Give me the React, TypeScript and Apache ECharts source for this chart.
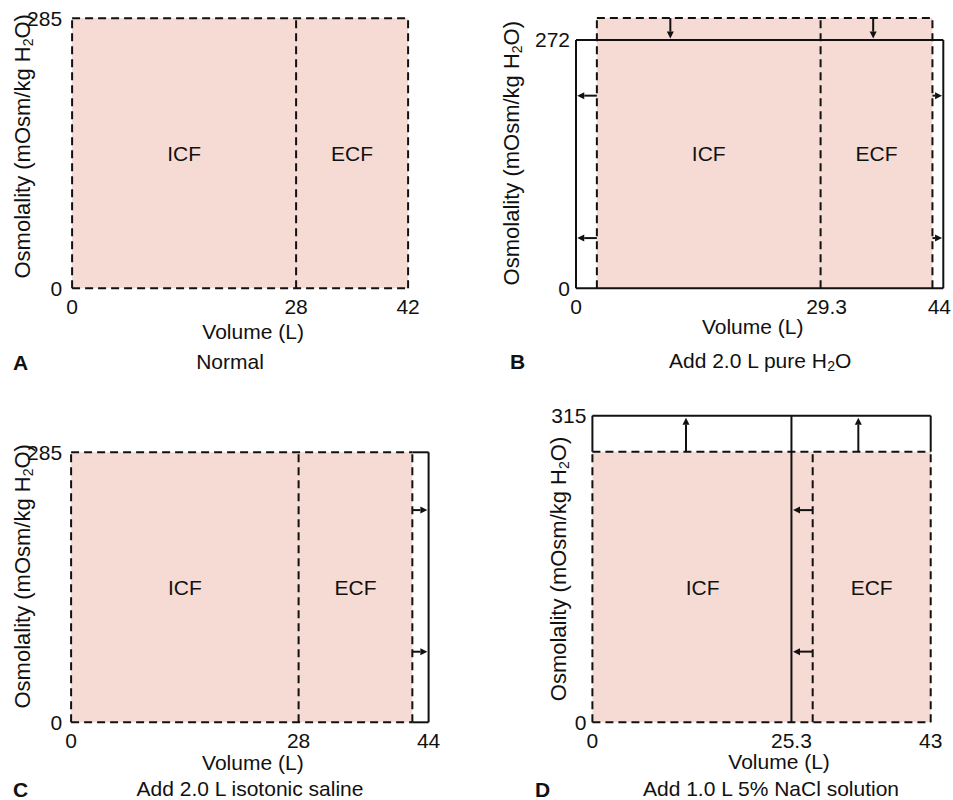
import React, { useEffect, useRef } from "react";
import * as echarts from "echarts";

const FONT = "'Liberation Sans', Arial, Helvetica, sans-serif";
const INK = "#111111";
const FILL = "#F6DBD4";

const COMPARTMENT_NAMES = ["ICF", "ECF"];
const X_NAME = "Volume (L)";
const Y_NAME = "Osmolality (mOsm/kg H{s|2}O)";

// Panel A - Normal
const A_X_TICKS = [0, 28, 42];
const A_Y_TICKS = [0, 285];
const A_BOUNDS = [0, 28, 42];
const A_OSM = 285;

// Panel B - Add 2.0 L pure H2O
const B_X_TICKS = [0, 29.3, 44];
const B_Y_TICKS = [0, 272];
const B_OLD_BOUNDS = [2.5, 29.3, 42.7];
const B_OLD_OSM = 296;
const B_NEW_BOUNDS = [0, 44];
const B_NEW_OSM = 272;
const B_ARROWS = [
  [11.3, 296, 11.3, 273.5],
  [35.6, 296, 35.6, 273.5],
  [2.5, 211, 0.15, 211],
  [2.5, 55, 0.15, 55],
  [42.7, 211, 43.85, 211],
  [42.7, 55, 43.85, 55],
];

// Panel C - Add 2.0 L isotonic saline
const C_X_TICKS = [0, 28, 44];
const C_Y_TICKS = [0, 285];
const C_OLD_BOUNDS = [0, 28, 42];
const C_OSM = 285;
const C_NEW_END = 44;
const C_ARROWS = [
  [42, 224, 43.85, 224],
  [42, 74.5, 43.85, 74.5],
];

// Panel D - Add 1.0 L 5% NaCl solution
const D_X_TICKS = [0, 25.3, 43];
const D_Y_TICKS = [0, 315];
const D_OLD_BOUNDS = [0, 28, 43];
const D_OLD_OSM = 278;
const D_NEW_BOUNDS = [0, 25.3, 43];
const D_NEW_OSM = 315;
const D_ARROWS = [
  [11.9, 278, 11.9, 313],
  [33.8, 278, 33.8, 313],
  [28, 218, 25.5, 218],
  [28, 72.6, 25.5, 72.6],
];

type Seg = number[];

function dashedBox(bounds: number[], osm: number): Seg[] {
  const first = bounds[0];
  const last = bounds[bounds.length - 1];
  const segs: Seg[] = [
    [first, osm, last, osm],
    [first, 0, last, 0],
  ];
  bounds.forEach((b) => segs.push([b, 0, b, osm]));
  return segs;
}

function segItem(dash: boolean) {
  return (params: any, api: any) => {
    const p1 = api.coord([api.value(0), api.value(1)]);
    const p2 = api.coord([api.value(2), api.value(3)]);
    return {
      type: "line",
      shape: { x1: p1[0], y1: p1[1], x2: p2[0], y2: p2[1] },
      style: { stroke: INK, lineWidth: 2, lineDash: dash ? [8, 5] : null, fill: null },
    };
  };
}

function arrowItem(params: any, api: any) {
  const p1 = api.coord([api.value(0), api.value(1)]);
  const p2 = api.coord([api.value(2), api.value(3)]);
  const dx = p2[0] - p1[0];
  const dy = p2[1] - p1[1];
  const len = Math.hypot(dx, dy) || 1;
  const ux = dx / len;
  const uy = dy / len;
  const headL = 7;
  const headW = 3.5;
  const bx = p2[0] - ux * headL;
  const by = p2[1] - uy * headL;
  return {
    type: "group",
    children: [
      {
        type: "line",
        shape: { x1: p1[0], y1: p1[1], x2: bx, y2: by },
        style: { stroke: INK, lineWidth: 2 },
      },
      {
        type: "polygon",
        shape: {
          points: [
            [p2[0], p2[1]],
            [bx - uy * headW, by + ux * headW],
            [bx + uy * headW, by - ux * headW],
          ],
        },
        style: { fill: INK },
      },
    ],
  };
}

function fillItem(params: any, api: any) {
  const p1 = api.coord([api.value(0), api.value(1)]);
  const p2 = api.coord([api.value(2), api.value(3)]);
  return {
    type: "rect",
    shape: {
      x: Math.min(p1[0], p2[0]),
      y: Math.min(p1[1], p2[1]),
      width: Math.abs(p2[0] - p1[0]),
      height: Math.abs(p2[1] - p1[1]),
    },
    style: { fill: FILL },
  };
}

function labelItem(params: any, api: any) {
  const x0 = api.value(0);
  const x1 = api.value(1);
  const yt = api.value(2);
  const c = api.coord([(x0 + x1) / 2, yt / 2]);
  return {
    type: "text",
    x: c[0],
    y: c[1],
    style: {
      text: COMPARTMENT_NAMES[params.dataIndex],
      fontSize: 21,
      fontFamily: FONT,
      fill: INK,
      align: "center",
      verticalAlign: "middle",
      textAlign: "center",
      textVerticalAlign: "middle",
    },
  };
}

function panelSeries(
  idx: number,
  fill: number[],
  solid: Seg[],
  dashed: Seg[],
  arrows: Seg[],
  oldBounds: number[],
  oldOsm: number
) {
  const labels = [
    [oldBounds[0], oldBounds[1], oldOsm],
    [oldBounds[1], oldBounds[2], oldOsm],
  ];
  const base = { type: "custom", xAxisIndex: idx, yAxisIndex: idx, clip: false, silent: true };
  return [
    { ...base, renderItem: fillItem, data: [fill], z: 1 },
    { ...base, renderItem: segItem(false), data: solid, z: 2 },
    { ...base, renderItem: segItem(true), data: dashed, z: 3 },
    { ...base, renderItem: arrowItem, data: arrows, z: 4 },
    { ...base, renderItem: labelItem, data: labels, z: 5 },
  ];
}

const baseText = { fontFamily: FONT, color: INK };

function makeX(
  idx: number,
  max: number,
  ticks: number[],
  nameGap: number,
  pad: number[],
  labelPads?: number[][]
) {
  const axisLabel: any = { customValues: ticks, fontSize: 21, margin: 8, ...baseText };
  if (labelPads) {
    const rich: any = {};
    labelPads.forEach((p, i) => {
      rich["t" + i] = { fontSize: 21, padding: p, ...baseText };
    });
    axisLabel.rich = rich;
    axisLabel.formatter = (v: number) => {
      const i = ticks.indexOf(v);
      return i >= 0 ? `{t${i}|${v}}` : String(v);
    };
  }
  return {
    type: "value",
    gridIndex: idx,
    min: 0,
    max,
    axisLine: { show: false },
    axisTick: { show: false },
    splitLine: { show: false },
    axisLabel,
    name: X_NAME,
    nameLocation: "middle",
    nameGap,
    nameMoveOverlap: false,
    nameTextStyle: { fontSize: 21, padding: pad, ...baseText },
  };
}

function makeY(idx: number, max: number, ticks: number[], margin: number, nameGap: number, pad: number[]) {
  return {
    type: "value",
    gridIndex: idx,
    min: 0,
    max,
    axisLine: { show: false },
    axisTick: { show: false },
    splitLine: { show: false },
    axisLabel: { customValues: ticks, fontSize: 21, margin, ...baseText },
    name: Y_NAME,
    nameLocation: "middle",
    nameRotate: 90,
    nameGap,
    nameMoveOverlap: false,
    nameTextStyle: {
      fontSize: 22,
      lineHeight: 26,
      padding: pad,
      ...baseText,
      rich: { s: { fontSize: 14, verticalAlign: "bottom", ...baseText } },
    },
  };
}

function subtitle(text: string, cx: number, cy: number) {
  return {
    type: "text",
    x: cx,
    y: cy,
    style: {
      text,
      fontSize: 21,
      fontFamily: FONT,
      fill: INK,
      lineHeight: 26,
      align: "center",
      verticalAlign: "middle",
      textAlign: "center",
      textVerticalAlign: "middle",
      rich: { s: { fontSize: 14, fontFamily: FONT, fill: INK, verticalAlign: "bottom" } },
    },
  };
}

function letter(text: string, x: number, y: number) {
  return {
    type: "text",
    x,
    y,
    style: {
      text,
      fontSize: 21,
      fontWeight: "bold",
      fontFamily: FONT,
      fill: INK,
      align: "left",
      verticalAlign: "middle",
      textAlign: "left",
      textVerticalAlign: "middle",
    },
  };
}

export default function App() {
  const ref = useRef<HTMLDivElement>(null);
  useEffect(() => {
    document.body.style.margin = "0";
    if (!ref.current) return;
    const chart = echarts.init(ref.current, null, { renderer: "svg" });

    const aDashed = dashedBox(A_BOUNDS, A_OSM);
    const bSolid: Seg[] = [
      [B_NEW_BOUNDS[0], B_NEW_OSM, B_NEW_BOUNDS[1], B_NEW_OSM],
      [B_NEW_BOUNDS[0], 0, B_NEW_BOUNDS[1], 0],
      [B_NEW_BOUNDS[0], 0, B_NEW_BOUNDS[0], B_NEW_OSM],
      [B_NEW_BOUNDS[1], 0, B_NEW_BOUNDS[1], B_NEW_OSM],
    ];
    const bDashed = dashedBox(B_OLD_BOUNDS, B_OLD_OSM).filter((s) => !(s[1] === 0 && s[3] === 0));
    const cDashed = dashedBox(C_OLD_BOUNDS, C_OSM);
    const cEnd = C_OLD_BOUNDS[2];
    const cSolid: Seg[] = [
      [cEnd, C_OSM, C_NEW_END, C_OSM],
      [cEnd, 0, C_NEW_END, 0],
      [C_NEW_END, 0, C_NEW_END, C_OSM],
    ];
    const dDashed = dashedBox(D_OLD_BOUNDS, D_OLD_OSM);
    const dSolid: Seg[] = [
      [D_NEW_BOUNDS[0], D_NEW_OSM, D_NEW_BOUNDS[2], D_NEW_OSM],
      [D_NEW_BOUNDS[0], D_OLD_OSM, D_NEW_BOUNDS[0], D_NEW_OSM],
      [D_NEW_BOUNDS[2], D_OLD_OSM, D_NEW_BOUNDS[2], D_NEW_OSM],
      [D_NEW_BOUNDS[1], 0, D_NEW_BOUNDS[1], D_NEW_OSM],
    ];

    const gridBase = { containLabel: false, outerBoundsMode: "none" };
    const option: any = {
      animation: false,
      grid: [
        { ...gridBase, left: 72.1, top: 18.3, width: 336, height: 270 },
        { ...gridBase, left: 576, top: 18.05, width: 367.3, height: 270.25 },
        { ...gridBase, left: 71.1, top: 452.3, width: 357.5, height: 270 },
        { ...gridBase, left: 592.4, top: 415.7, width: 338.3, height: 306.6 },
      ],
      xAxis: [
        makeX(0, A_BOUNDS[2], A_X_TICKS, 33, [0, 0, 0, 26]),
        makeX(1, B_NEW_BOUNDS[1], B_X_TICKS, 28, [0, 14, 0, 0], [
          [0, 0, 0, 0],
          [0, 0, 0, 12],
          [0, 8, 0, 0],
        ]),
        makeX(2, C_NEW_END, C_X_TICKS, 30, [0, 0, 0, 6]),
        makeX(3, D_NEW_BOUNDS[2], D_X_TICKS, 29, [0, 0, 0, 35]),
      ],
      yAxis: [
        makeY(0, A_OSM, A_Y_TICKS, 10, 37, [0, 0, 0, 14]),
        makeY(1, B_OLD_OSM, B_Y_TICKS, 6, 52, [0, 0, 0, 0]),
        makeY(2, C_OSM, C_Y_TICKS, 9, 36, [0, 0, 0, 22]),
        makeY(3, D_NEW_OSM, D_Y_TICKS, 6, 21, [0, 0, 0, 0]),
      ],
      series: [
        ...panelSeries(0, [A_BOUNDS[0], 0, A_BOUNDS[2], A_OSM], [], aDashed, [], A_BOUNDS, A_OSM),
        ...panelSeries(1, [B_OLD_BOUNDS[0], 0, B_OLD_BOUNDS[2], B_OLD_OSM], bSolid, bDashed, B_ARROWS, B_OLD_BOUNDS, B_OLD_OSM),
        ...panelSeries(2, [C_OLD_BOUNDS[0], 0, C_OLD_BOUNDS[2], C_OSM], cSolid, cDashed, C_ARROWS, C_OLD_BOUNDS, C_OSM),
        ...panelSeries(3, [D_OLD_BOUNDS[0], 0, D_OLD_BOUNDS[2], D_OLD_OSM], dSolid, dDashed, D_ARROWS, D_OLD_BOUNDS, D_OLD_OSM),
      ],
      graphic: [
        letter("A", 13, 362),
        subtitle("Normal", 230, 361),
        letter("B", 510, 361),
        subtitle("Add 2.0 L pure H{s|2}O", 760, 360),
        letter("C", 13, 789),
        subtitle("Add 2.0 L isotonic saline", 250, 788),
        letter("D", 535, 789),
        subtitle("Add 1.0 L 5% NaCl solution", 771, 788),
      ],
    };
    chart.setOption(option);
    return () => chart.dispose();
  }, []);
  return <div ref={ref} style={{ width: 953, height: 800 }} />;
}
